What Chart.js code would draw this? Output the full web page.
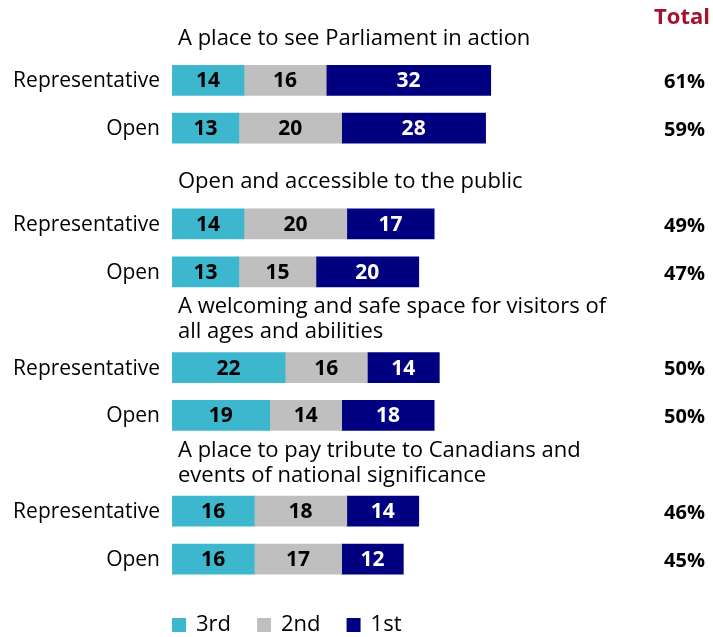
<!DOCTYPE html>
<html>
<head>
<meta charset="utf-8">
<script src="https://cdn.jsdelivr.net/npm/chart.js@4/dist/chart.umd.min.js"></script>
<style>
  html, body { margin: 0; padding: 0; background: #fff; }
  #wrap { width: 713px; height: 637px; position: relative; }
</style>
</head>
<body>
<div id="wrap"><canvas id="chart"></canvas></div>
<script>
// rows: a title row, then Representative / Open for each item
const rowLabels = ['', 'Representative', 'Open', '', 'Representative', 'Open', '', 'Representative', 'Open', '', 'Representative', 'Open'];
const groupTitles = [
    ['A place to see Parliament in action'],
    ['Open and accessible to the public'],
    ['A welcoming and safe space for visitors of', 'all ages and abilities'],
    ['A place to pay tribute to Canadians and', 'events of national significance']
];
const third = [null, 14, 13, null, 14, 13, null, 22, 19, null, 16, 16];
const second = [null, 16, 20, null, 20, 15, null, 16, 14, null, 18, 17];
const first = [null, 32, 28, null, 17, 20, null, 14, 18, null, 14, 12];
const totals = [null, '61%', '59%', null, '49%', '47%', null, '50%', '50%', null, '46%', '45%'];

const FONT = '"Open Sans", "Noto Sans", sans-serif';

// draws row labels, item titles, numbers inside bars, the Total column and the legend
const annotate = {
    id: 'annotate',
    afterDatasetsDraw(chart) {
        const ctx = chart.ctx;
        const y = chart.scales.y;
        ctx.save();
        ctx.textBaseline = 'middle';

        // values inside the segments
        ctx.font = 'bold 21px ' + FONT;
        ctx.textAlign = 'center';
        chart.data.datasets.forEach((ds, di) => {
            chart.getDatasetMeta(di).data.forEach((bar, i) => {
                if (ds.data[i] == null) return;
                const mid = (bar.x + bar.base) / 2;
                ctx.fillStyle = di === 2 ? '#ffffff' : '#000000';
                ctx.fillText(ds.data[i], mid, bar.y + 1);
            });
        });

        // row labels
        ctx.font = '21px ' + FONT;
        ctx.textAlign = 'right';
        ctx.fillStyle = '#000000';
        rowLabels.forEach((lab, i) => {
            if (lab === '') return;
            ctx.fillText(lab, 160, y.getPixelForValue(i) + 1);
        });

        // group titles in the empty rows
        ctx.font = '22px ' + FONT;
        ctx.textAlign = 'left';
        let g = 0;
        rowLabels.forEach((lab, i) => {
            if (lab !== '') return;
            const cy = y.getPixelForValue(i);
            const lines = groupTitles[g++];
            if (lines.length === 1) {
                ctx.fillText(lines[0], 178, cy + 6);
            } else {
                ctx.fillText(lines[0], 178, cy - 13);
                ctx.fillText(lines[1], 178, cy + 12);
            }
        });

        // totals column
        ctx.textAlign = 'right';
        ctx.font = 'bold 20px ' + FONT;
        totals.forEach((t, i) => {
            if (t == null) return;
            ctx.fillText(t, 705, y.getPixelForValue(i) + 2);
        });
        ctx.font = 'bold 22px ' + FONT;
        ctx.fillStyle = '#A6122E';
        ctx.fillText('Total', 710, 18);

        // legend below the bars
        ctx.textAlign = 'left';
        ctx.font = '22px ' + FONT;
        let lx = 172;
        chart.data.datasets.forEach(ds => {
            ctx.fillStyle = ds.backgroundColor;
            ctx.fillRect(lx, 618, 14, 14);
            ctx.fillStyle = '#000000';
            ctx.fillText(ds.label, lx + 24, 625);
            lx += 24 + ctx.measureText(ds.label).width + 26;
        });
        ctx.restore();
    }
};

new Chart(document.getElementById('chart'), {
    type: 'bar',
    data: {
        labels: rowLabels,
        datasets: [
            { label: '3rd', data: third, backgroundColor: '#3DB7CE' },
            { label: '2nd', data: second, backgroundColor: '#BFBFBF' },
            { label: '1st', data: first, backgroundColor: '#000080' }
        ]
    },
    options: {
        indexAxis: 'y',
        responsive: true,
        maintainAspectRatio: false,
        animation: false,
        barThickness: 30,
        layout: { padding: { top: 8.5, right: 140, left: 0, bottom: 54 } },
        scales: {
            x: {
                stacked: true,
                min: 0,
                max: 78,
                display: false
            },
            y: {
                stacked: true,
                grid: { display: false, drawTicks: false },
                border: { display: false },
                ticks: { display: false },
                afterFit(scale) { scale.width = 172; }
            }
        },
        plugins: {
            tooltip: { enabled: false },
            legend: { display: false }
        }
    },
    plugins: [annotate]
});
</script>
</body>
</html>
